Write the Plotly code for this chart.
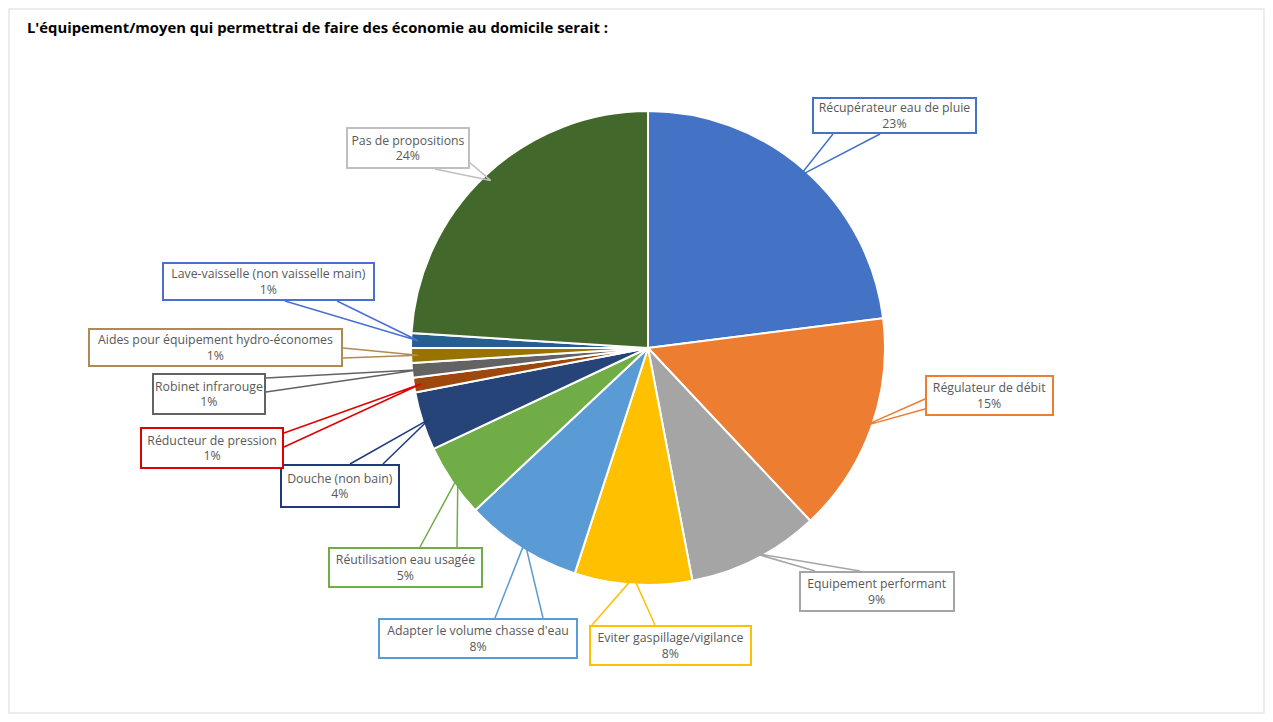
import math
import plotly.graph_objects as go

# ---- data ----
labels = [
    "Récupérateur eau de pluie",
    "Régulateur de débit",
    "Equipement performant",
    "Eviter gaspillage/vigilance",
    "Adapter le volume chasse d'eau",
    "Réutilisation eau usagée",
    "Douche (non bain)",
    "Réducteur de pression",
    "Robinet infrarouge",
    "Aides pour équipement hydro-économes",
    "Lave-vaisselle (non vaisselle main)",
    "Pas de propositions",
]
values = [23, 15, 9, 8, 8, 5, 4, 1, 1, 1, 1, 24]
colors = ["#4472C4", "#ED7D31", "#A5A5A5", "#FFC000", "#5B9BD5", "#70AD47",
          "#264478", "#9E480E", "#636363", "#997300", "#255E91", "#43682B"]
label_border = ["#4472C4", "#ED7D31", "#A5A5A5", "#FFC000", "#5B9BD5", "#70AD47",
                "#1F3A7A", "#E00000", "#636363", "#B08A55", "#4A6FD0", "#BFBFBF"]
title = "L'équipement/moyen qui permettrai de faire des économie au domicile serait :"

# ---- layout geometry (screen pixels) ----
OFF = 8                      # page body margin
FW, FH = 1273 - 2 * OFF, 722 - 2 * OFF
CX, CY, R = 648, 348, 237
# label boxes (x0, y0, x1, y1) and callout base points (bx1, by1, bx2, by2)
boxes = [
    (812, 97, 977, 134), (925, 375, 1054, 416), (799, 571, 955, 612),
    (589, 625, 752, 666), (378, 618, 578, 659), (328, 547, 483, 588),
    (280, 464, 400, 508), (140, 427, 284, 469), (152, 373, 266, 415),
    (88, 328, 343, 367), (162, 262, 375, 301), (346, 127, 470, 169),
]
bases = [
    (833, 134, 880, 134), (925, 399, 925, 409), (815, 571, 860, 571),
    (592, 625, 655, 625), (495, 618, 543, 618), (420, 547, 457, 547),
    (350, 464, 383, 464), (284, 433, 284, 447), (266, 378, 266, 392),
    (343, 348, 343, 358), (285, 301, 337, 301), (435, 169, 469, 162),
]

def px(x):
    return (x - OFF) / FW

def py(y):
    return 1 - (y - OFF) / FH

fig = go.Figure(go.Pie(
    labels=labels, values=values, sort=False, direction="clockwise", rotation=0,
    marker=dict(colors=colors, line=dict(color="white", width=2)),
    textinfo="none", showlegend=False,
    domain=dict(x=[px(CX - R), px(CX + R)], y=[py(CY + R), py(CY - R)]),
))

total = sum(values)
cum = 0
shapes = [dict(type="rect", xref="paper", yref="paper",
               x0=px(9), y0=py(713), x1=px(1264), y1=py(9),
               line=dict(color="#E6E6E6", width=1.5), fillcolor="rgba(0,0,0,0)")]
annotations = []
font_lab = dict(family="Open Sans, Noto Sans, sans-serif", size=12.3, color="#595959")
for lab, v, bc, box, b in zip(labels, values, label_border, boxes, bases):
    mid = (cum + v / 2) / total * 2 * math.pi
    cum += v
    tx = CX + 0.97 * R * math.sin(mid)
    ty = CY - 0.97 * R * math.cos(mid)
    path = f"M {px(b[0])} {py(b[1])} L {px(tx)} {py(ty)} L {px(b[2])} {py(b[3])}"
    shapes.append(dict(type="path", xref="paper", yref="paper", path=path,
                       line=dict(color=bc, width=1.5)))
    x0, y0, x1, y1 = box
    annotations.append(dict(
        x=px((x0 + x1) / 2), y=py((y0 + y1) / 2), xref="paper", yref="paper",
        xanchor="center", yanchor="middle", showarrow=False,
        text=f"{lab}<br>{v}%", align="center",
        width=x1 - x0 - 4, height=y1 - y0 - 4,
        bordercolor=bc, borderwidth=2, borderpad=0, bgcolor="white",
        font=font_lab,
    ))

annotations.append(dict(
    x=px(25), y=py(27), xref="paper", yref="paper", xanchor="left", yanchor="middle",
    showarrow=False, text=f"<b>{title}</b>",
    font=dict(family="Open Sans, Noto Sans, sans-serif", size=14.8, color="#000000"),
))

fig.update_layout(
    width=FW, height=FH, margin=dict(l=0, r=0, t=0, b=0),
    paper_bgcolor="white", plot_bgcolor="white",
    shapes=shapes, annotations=annotations,
)
fig.write_html("out.html")
